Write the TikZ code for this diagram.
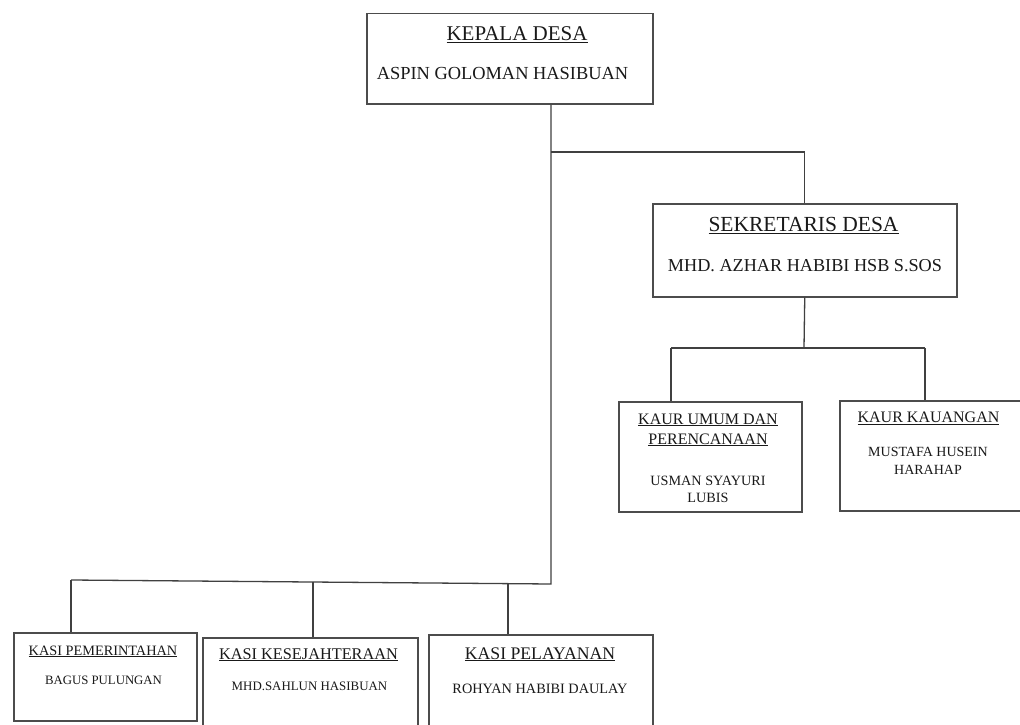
\documentclass[tikz,border=0pt]{standalone}
\usepackage{fontspec}
\setmainfont{Liberation Serif}
\newcommand{\fs}[1]{\fontsize{#1}{#1}\selectfont}
\begin{document}
\begin{tikzpicture}[x=1pt,y=-1pt,
  box/.style={draw=black!70, line width=1.5pt, inner sep=0pt, anchor=north west},
  conn/.style={draw=black!75, line width=1.3pt},
  txt/.style={anchor=base, inner sep=0pt, text=black!90}]
\clip (0,0) rectangle (1020,725);
\fill[white] (0,0) rectangle (1020,725);

% boxes
\node[box, minimum width=286pt, minimum height=90pt] (kd) at (366,13) {};
\node[box, minimum width=304pt, minimum height=93pt] (sd) at (652,203) {};
\node[box, minimum width=183pt, minimum height=110pt] (ku) at (618,401) {};
\node[box, minimum width=200pt, minimum height=110pt] (kk) at (839,400) {};
\node[box, minimum width=183pt, minimum height=88pt] (kp) at (13,632) {};
\node[box, minimum width=215pt, minimum height=110pt] (kks) at (202,637) {};
\node[box, minimum width=224pt, minimum height=110pt] (kpl) at (428,634) {};

% texts
\node[txt, font=\fs{21}] (t1) at (517,41) {\underline{KEPALA DESA}};
\node[txt, font=\fs{18.4}] (n1) at (502.5,80) {ASPIN GOLOMAN HASIBUAN};
\node[txt, font=\fs{21.5}] (t2) at (803.5,231.5) {\underline{SEKRETARIS DESA}};
\node[txt, font=\fs{18.2}] (n2) at (805,271) {MHD. AZHAR HABIBI HSB S.SOS};
\node[txt, font=\fs{16}] (t3a) at (708,424) {\underline{KAUR UMUM DAN}};
\node[txt, font=\fs{16}] (t3b) at (708,444) {\underline{PERENCANAAN}};
\node[txt, font=\fs{14.2}] (n3a) at (708,485.5) {USMAN SYAYURI};
\node[txt, font=\fs{14.2}] (n3b) at (708,502.5) {LUBIS};
\node[txt, font=\fs{16}] (t4) at (928.5,422.5) {\underline{KAUR KAUANGAN}};
\node[txt, font=\fs{14}] (n4a) at (928,456) {MUSTAFA HUSEIN};
\node[txt, font=\fs{14}] (n4b) at (928,474) {HARAHAP};
\node[txt, font=\fs{14.3}] (t5) at (103,655) {\underline{KASI PEMERINTAHAN}};
\node[txt, font=\fs{12.8}] (n5) at (103.5,684) {BAGUS PULUNGAN};
\node[txt, font=\fs{16.3}] (t6) at (308.5,659) {\underline{KASI KESEJAHTERAAN}};
\node[txt, font=\fs{12.9}] (n6) at (309.5,690.5) {MHD.SAHLUN HASIBUAN};
\node[txt, font=\fs{17.7}] (t7) at (540,659) {\underline{KASI PELAYANAN}};
\node[txt, font=\fs{14.3}] (n7) at (540,693) {ROHYAN HABIBI DAULAY};

% junctions
\coordinate (j1) at (551,152);
\coordinate (j3) at (551,584);
\coordinate (j2) at (804,348);
\coordinate (k1) at (671,348);
\coordinate (k2) at (925,348);
\coordinate (b1) at (71,580);
\coordinate (b2) at (313,581.5);
\coordinate (b3) at (508,583.2);

% connectors
\draw[conn] (kd.south -| j1) -- (j3) -- (b1);
\draw[conn] (j1) -- (j1 -| sd.north) -- (sd.north);
\draw[conn] (sd.south) -- (j2);
\draw[conn] (k1) -- (k2);
\draw[conn] (k1) -- (k1 |- ku.north);
\draw[conn] (k2) -- (k2 |- kk.north);
\draw[conn] (b1) -- (b1 |- kp.north);
\draw[conn] (b2) -- (b2 |- kks.north);
\draw[conn] (b3) -- (b3 |- kpl.north);
\end{tikzpicture}
\end{document}
